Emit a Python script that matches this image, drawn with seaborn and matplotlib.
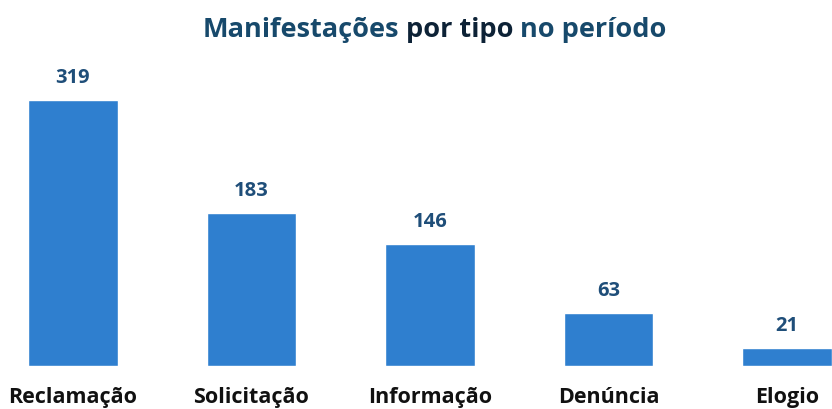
import matplotlib
matplotlib.use("Agg")
import matplotlib.pyplot as plt
import seaborn as sns
import pandas as pd

CATEGORIES = ["Reclamação", "Solicitação", "Informação", "Denúncia", "Elogio"]
COUNTS = [319, 183, 146, 63, 21]

BAR_COLOR = "#2f7fcf"
LABEL_COLOR = "#1f4e79"

sns.set_theme(style="white")
plt.rcParams["font.family"] = ["Open Sans", "DejaVu Sans"]

df = pd.DataFrame({"tipo": CATEGORIES, "total": COUNTS})

fig = plt.figure(figsize=(8.32, 4.09), dpi=100)
ax = fig.add_axes([0, 43 / 409, 1, 326 / 409])

sns.barplot(data=df, x="tipo", y="total", color=BAR_COLOR, width=0.5,
            saturation=1, ax=ax)

ax.set_xlim(-73 / 178.5, (832 - 73) / 178.5)
ax.set_ylim(0, 391)
ax.set_xlabel("")
ax.set_ylabel("")
ax.set_yticks([])
ax.tick_params(axis="x", length=0, pad=15)
for lab in ax.get_xticklabels():
    lab.set_fontsize(15.5)
    lab.set_fontweight("bold")
    lab.set_color("#111111")
sns.despine(ax=ax, left=True, bottom=True, top=True, right=True)

for i, v in enumerate(COUNTS):
    ax.annotate(str(v), (i, v), xytext=(0, 9), textcoords="offset points",
                ha="center", va="bottom", fontsize=14.5, fontweight="bold",
                color=LABEL_COLOR)

# title in three coloured pieces
t1 = fig.text(0.243, 0.91, "Manifestações", fontsize=19.5, fontweight="bold",
              color="#17496b", va="baseline", ha="left")
t2 = ax.annotate(" por tipo", xy=(1, 0), xycoords=t1, va="bottom", ha="left",
                 fontsize=19.5, fontweight="bold", color="#0d2236")
t3 = ax.annotate(" no período", xy=(1, 0), xycoords=t2, va="bottom", ha="left",
                 fontsize=19.5, fontweight="bold", color="#17496b")

fig.savefig("out.png", dpi=100)
